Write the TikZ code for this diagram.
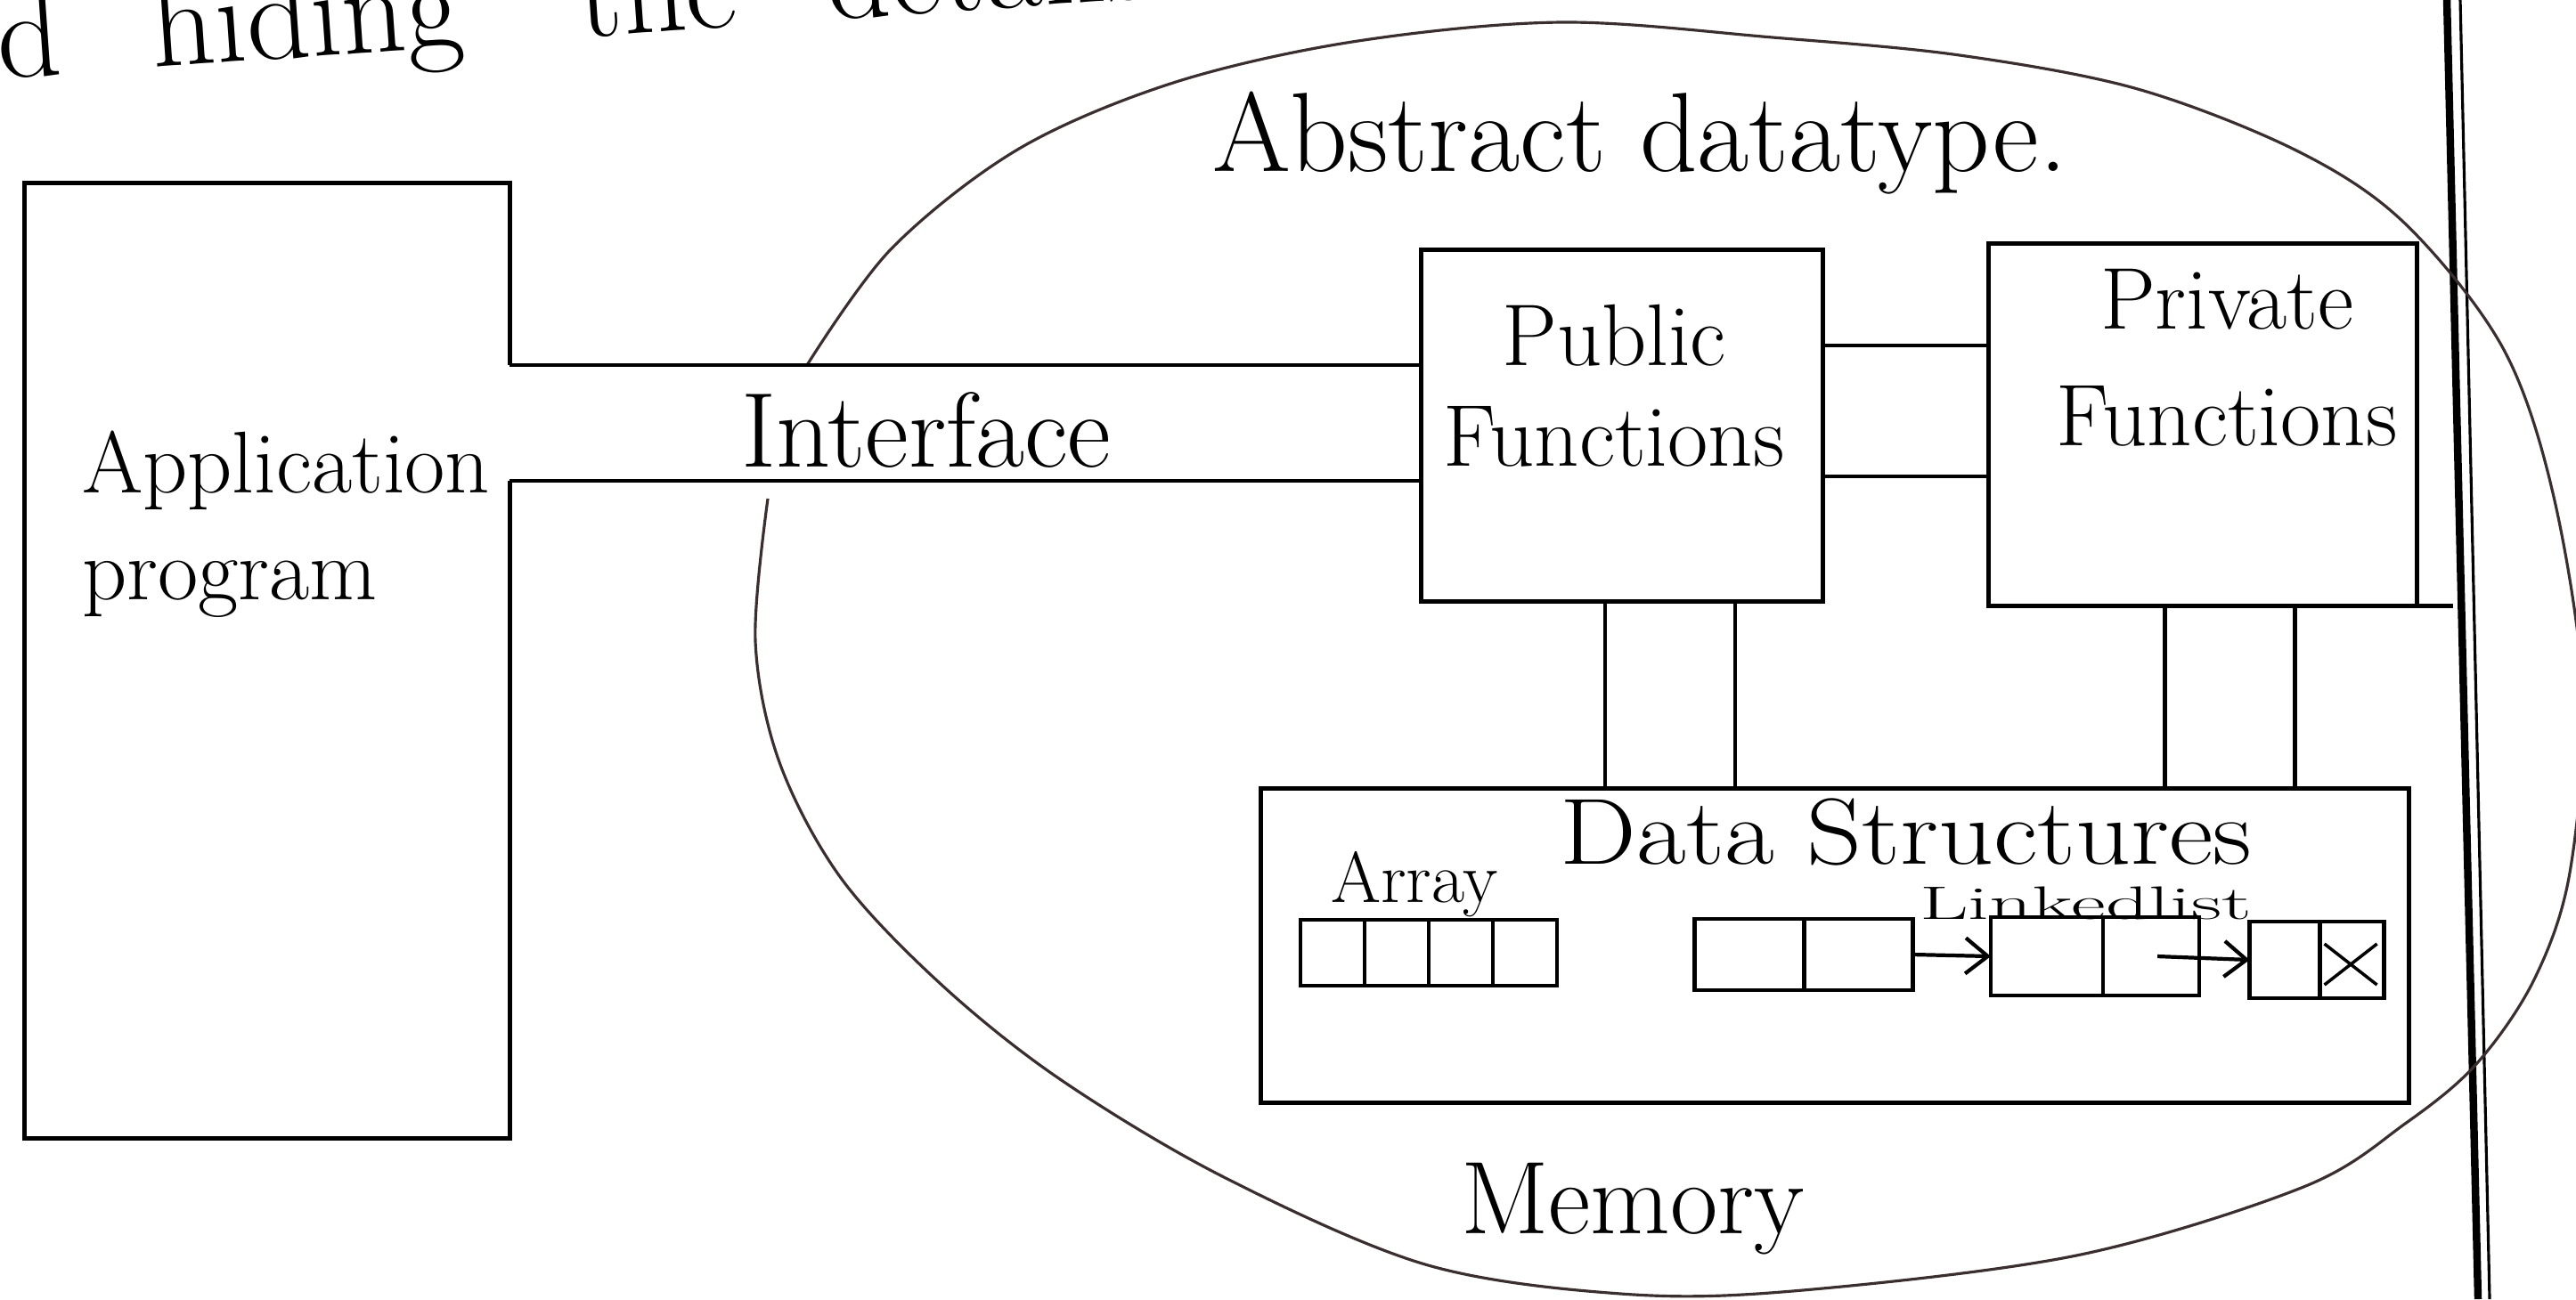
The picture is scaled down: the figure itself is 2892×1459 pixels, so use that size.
\documentclass[tikz,border=0pt]{standalone}
\usepackage{fontspec}
\usetikzlibrary{positioning,arrows.meta,calc}
\definecolor{arcink}{HTML}{3A2E2E}

\begin{document}
\begin{tikzpicture}[
    x=0.01cm, y=-0.01cm,
    block/.style = {draw, line width=1.4pt, inner sep=0pt, outer sep=0pt},
    frame/.style = {inner sep=0pt, outer sep=0pt},
    cell/.style  = {draw, line width=1.3pt, inner sep=0pt, outer sep=0pt},
    wire/.style  = {line width=1.4pt},
    ptr/.style   = {-{Straight Barb[length=2.5mm,width=4mm]}, line width=1.2pt},
    hand/.style  = {inner sep=0pt, outer sep=0pt}
]
\useasboundingbox (0,0) rectangle (2892,1459);

% =========================================================
% PAGE (NOTE TEXT AND MARGIN)
% =========================================================
\node[hand, anchor=base west, rotate=4, font=\fontsize{40}{44}\selectfont] (note) at (0,88)
  {d\hspace{.72em}hiding\hspace{.92em}the\hspace{.72em}details};
\draw[line width=2.4pt] (2747,0) -- (2782,1459);
\draw[line width=0.9pt] (2762,0) -- (2795,1459);

% =========================================================
% APPLICATION PROGRAM
% =========================================================
\node[frame, minimum width=5.44cm, minimum height=10.72cm] (app) at (300,742) {};
\node[hand, align=left, anchor=base west, font=\fontsize{28}{34}\selectfont] (tapp) at (92,673)
  {Application\\program};

% =========================================================
% PUBLIC / PRIVATE FUNCTIONS
% =========================================================
\node[block, minimum width=4.51cm, minimum height=3.94cm] (pub) at (1821,478) {};
\node[hand, align=center, anchor=base, font=\fontsize{28}{32}\selectfont] (tpub) at (1812,523)
  {Public\\Functions};

\node[block, minimum width=4.81cm, minimum height=4.06cm] (prv) at (2473,477) {};
\node[hand, align=center, anchor=base, font=\fontsize{28}{37}\selectfont] (tprv) at (2500,500)
  {Private\\Functions};

% =========================================================
% DATA STRUCTURES
% =========================================================
\node[block, minimum width=12.88cm, minimum height=3.52cm] (ds) at (2060,1062) {};
\node[hand, anchor=base, font=\fontsize{30}{36}\selectfont] (tds) at (2140,970)
  {\scalebox{1.15}[1]{Data Structures}};

% array
\node[hand, anchor=base west, font=\fontsize{23}{26}\selectfont] (tarr) at (1494,1013) {Array};
\foreach \i in {0,...,3}
  \node[cell, minimum width=.72cm, minimum height=.74cm] (arr\i) at (1496+72*\i,1070) {};

% linked list
\node[hand, anchor=base west, font=\fontsize{15}{18}\selectfont] (tll) at (2155,1032)
  {\scalebox{1.8}[1]{Linkedlist}};
\node[cell, minimum width=1.23cm, minimum height=.80cm] (ll1a) at (1964,1072) {};
\node[cell, minimum width=1.22cm, minimum height=.80cm, right=0pt of ll1a] (ll1b) {};
\node[cell, minimum width=1.26cm, minimum height=.88cm] (ll2a) at (2298,1074) {};
\node[cell, minimum width=1.08cm, minimum height=.88cm, right=0pt of ll2a] (ll2b) {};
\node[cell, minimum width=.79cm, minimum height=.86cm] (ll3a) at (2565,1078) {};
\node[cell, minimum width=.72cm, minimum height=.86cm, right=0pt of ll3a] (ll3b) {};
\draw[line width=1pt]
  ([shift={(.5mm,-2.5mm)}]ll3b.north west) -- ([shift={(-.8mm,1.5mm)}]ll3b.south east)
  ([shift={(-.8mm,-2.5mm)}]ll3b.north east) -- ([shift={(.5mm,1.5mm)}]ll3b.south west);

% =========================================================
% MEMORY / ABSTRACT DATATYPE
% =========================================================
\node[hand, anchor=base west, font=\fontsize{36}{40}\selectfont] (tadt) at (1361,192) {Abstract datatype.};
\node[hand, anchor=base west, font=\fontsize{33}{40}\selectfont] (tmem) at (1640,1385) {Memory};
\draw[arcink, line width=0.9pt] plot[smooth, tension=.55] coordinates {
  (906,410) (1001,279) (1144,167) (1317,93) (1518,47) (1752,25) (1990,42)
  (2200,62) (2400,100) (2580,170) (2700,251) (2810,391) (2867,558)
  (2900,780) (2885,980) (2845,1100) (2780,1195) (2700,1262) (2586,1333)
  (2331,1410) (2012,1450) (1820,1453) (1600,1420) (1374,1322) (1190,1212)
  (1056,1105) (944,986) (875,856) (848,720) (862,560)};

% =========================================================
% INTERFACE
% =========================================================
\coordinate (ifA) at (0,410);
\coordinate (ifB) at (0,540);
\node[hand, anchor=base west, font=\fontsize{34}{40}\selectfont] (tif) at (832,524) {Interface};

% =========================================================
% LINES
% =========================================================
\coordinate (hA) at (0,388);
\coordinate (hB) at (0,535);
\coordinate (vA) at (1802,0);
\coordinate (vB) at (1948,0);
\coordinate (vC) at (2430,0);
\coordinate (vD) at (2576,0);

\draw[wire] (app.east |- ifA) -- (app.north east) -- (app.north west)
  -- (app.south west) -- (app.south east) -- (app.east |- ifB);
\draw[wire]
  (app.east |- ifA) -- (pub.west |- ifA)
  (app.east |- ifB) -- (pub.west |- ifB)
  (pub.east |- hA)  -- (prv.west |- hA)
  (pub.east |- hB)  -- (prv.west |- hB)
  (vA |- pub.south) -- (vA |- ds.north)
  (vB |- pub.south) -- (vB |- ds.north)
  (vC |- prv.south) -- (vC |- ds.north)
  (vD |- prv.south) -- (vD |- ds.north)
  (prv.south east) -- ++(40,0);

\draw[ptr] (ll1b.east) -- (ll2a.west);
\draw[ptr] ([xshift=-4.7mm]ll2b.east) -- (ll3a.west);

\end{tikzpicture}
\end{document}
